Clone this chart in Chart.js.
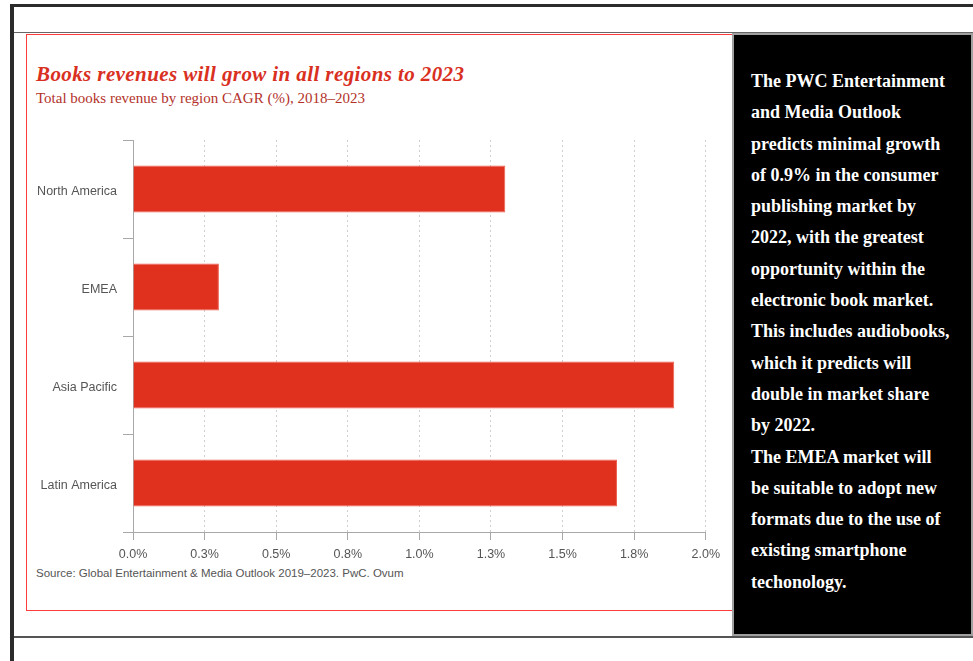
<!DOCTYPE html>
<html>
<head>
<meta charset="utf-8">
<script src="https://cdn.jsdelivr.net/npm/chart.js@4.4.0/dist/chart.umd.min.js"></script>
<style>
    body { margin: 0; background: #fff; width: 973px; height: 661px; overflow: hidden; position: relative; }
    .abs { position: absolute; }
    #frameTop { left: 10px; top: 4px; width: 963px; height: 3px; background: #2b2b2b; }
    #frameLeft { left: 10px; top: 4px; width: 4px; height: 657px; background: #2b2b2b; }
    #lineTop { left: 14px; top: 32px; width: 959px; height: 1px; background: #666; }
    #lineBottom { left: 14px; top: 636px; width: 959px; height: 2px; background: #555; }
    #redBox { left: 26px; top: 34px; width: 706px; height: 575px; border: 1px solid #ff3b3b; }
    #titre { left: 36px; top: 64px; font: italic bold 21px "Liberation Serif", serif; letter-spacing: 0.4px; line-height: 20px; color: #d9301f; white-space: nowrap; }
    #sousTitre { left: 36px; top: 91px; font: 15px "Liberation Serif", serif; line-height: 15px; color: #b3322a; white-space: nowrap; }
    #source { left: 36px; top: 567px; font: 11.5px "Liberation Sans", Arial, sans-serif; line-height: 12px; color: #555; white-space: nowrap; }
    #chartBox { left: 27px; top: 120px; }
    #panel { left: 732px; top: 33px; width: 237px; height: 599px; background: #000; border: 2px solid #a0a0a0; }
    #panelText { position: absolute; left: 17px; top: 31px; font: bold 18px "Liberation Serif", "Times New Roman", serif; line-height: 31.3px; color: #fff; white-space: nowrap; }
</style>
</head>
<body>

<div id="frameTop" class="abs"></div>
<div id="frameLeft" class="abs"></div>
<div id="lineTop" class="abs"></div>
<div id="lineBottom" class="abs"></div>
<div id="redBox" class="abs"></div>

<div id="titre" class="abs"></div>
<div id="sousTitre" class="abs"></div>
<div id="source" class="abs"></div>

<div id="chartBox" class="abs">
    <canvas id="chart1" width="700" height="450"></canvas>
</div>

<div id="panel" class="abs"><div id="panelText"></div></div>

<script>
// donnees
const chartTitle = "Books revenues will grow in all regions to 2023";
const chartSubtitle = "Total books revenue by region CAGR (%), 2018\u20132023";
const sourceText = "Source: Global Entertainment & Media Outlook 2019\u20132023. PwC. Ovum";

const regions = ["North America", "EMEA", "Asia Pacific", "Latin America"];
const cagrValues = [1.3, 0.3, 1.89, 1.69];
const axisMin = 0;
const axisMax = 2.0;
const axisStep = 0.25;

const panelLines = [
    "The PWC Entertainment",
    "and Media Outlook",
    "predicts minimal growth",
    "of 0.9% in the consumer",
    "publishing market by",
    "2022, with the greatest",
    "opportunity within the",
    "electronic book market.",
    "This includes audiobooks,",
    "which it predicts will",
    "double in market share",
    "by 2022.",
    "The EMEA market will",
    "be suitable to adopt new",
    "formats due to the use of",
    "existing smartphone",
    "techonology."
];

// textes
document.getElementById("titre").textContent = chartTitle;
document.getElementById("sousTitre").textContent = chartSubtitle;
document.getElementById("source").textContent = sourceText;

let panel = document.getElementById("panelText");
for (let i = 0; i < panelLines.length; i++) {
    let line = document.createElement("div");
    line.textContent = panelLines[i];
    panel.appendChild(line);
}

// chart.js barres
const axisGray = "#a8a8a8";
const labelFont = { family: "'Liberation Sans', Arial, sans-serif", size: 12.5 };

ctx = document.getElementById("chart1").getContext("2d");

const myChart = new Chart(ctx, {
    type: "bar",
    data: {
        labels: regions,
        datasets: [{
            data: cagrValues,
            backgroundColor: "#e0301e",
            borderColor: "#ec6050",
            borderWidth: 1,
            barPercentage: 0.48,
            categoryPercentage: 1
        }]
    },
    options: {
        indexAxis: "y",
        responsive: false,
        animation: false,
        devicePixelRatio: 1,
        layout: { padding: { top: 20, right: 21, left: 0, bottom: 0 } },
        plugins: {
            legend: { display: false },
            tooltip: { enabled: false }
        },
        scales: {
            x: {
                min: axisMin,
                max: axisMax,
                afterFit: function(scale) { scale.height = 38; },
                ticks: {
                    stepSize: axisStep,
                    padding: 7,
                    color: "#555",
                    font: labelFont,
                    callback: function(v) { return Number(v).toFixed(1) + "%"; }
                },
                grid: {
                    color: function(c) { return c.tick && c.tick.value === 0 ? "rgba(0,0,0,0)" : "#cfcfcf"; },
                    tickColor: axisGray,
                    tickLength: 8,
                    tickBorderDash: []
                },
                border: { color: axisGray, width: 1, dash: [2, 3] }
            },
            y: {
                afterFit: function(scale) { scale.width = 106; },
                ticks: {
                    padding: 6,
                    labelOffset: 3,
                    color: "#555",
                    font: labelFont
                },
                grid: {
                    offset: true,
                    drawOnChartArea: false,
                    tickColor: axisGray,
                    tickLength: 10
                },
                border: { color: axisGray, width: 1 }
            }
        }
    }
});
</script>
</body>
</html>
